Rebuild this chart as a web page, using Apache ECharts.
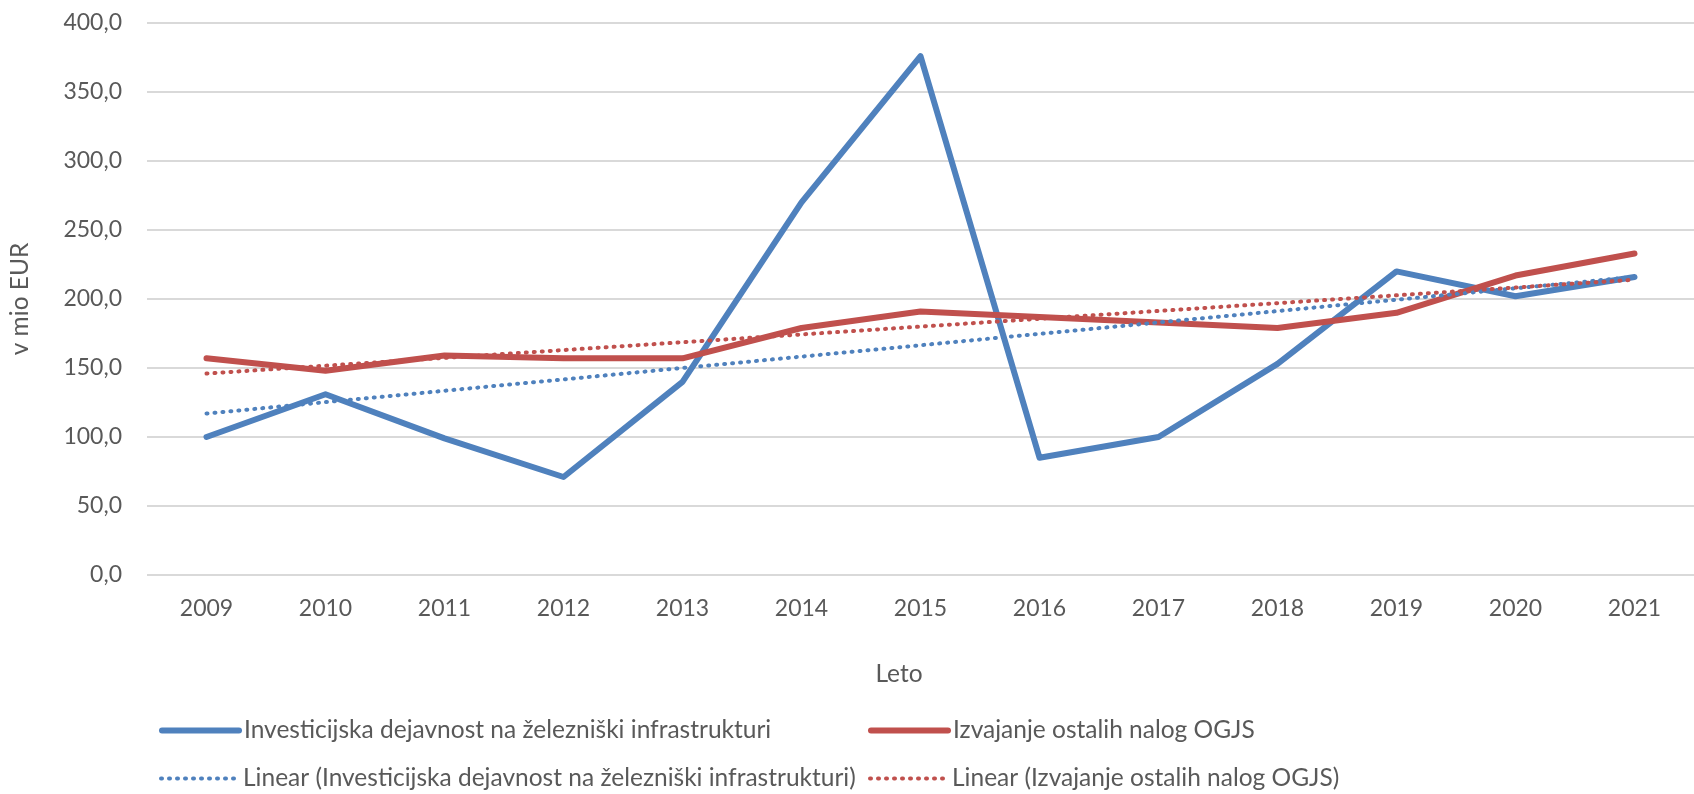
<!DOCTYPE html>
<html>
<head>
<meta charset="utf-8">
<script src="https://cdn.jsdelivr.net/npm/echarts@6/dist/echarts.min.js"></script>
<style>html,body{margin:0;padding:0;background:#fff;}#c{width:1694px;height:794px;}</style>
</head>
<body>
<div id="c"></div>
<script>
const years = ['2009','2010','2011','2012','2013','2014','2015','2016','2017','2018','2019','2020','2021'];
const investicije = [100, 131, 99, 71, 140, 270, 376, 85, 100, 153, 220, 202, 216];
const ostaleNaloge = [157, 148, 159, 157, 157, 179, 191, 187, 183, 179, 190, 217, 233];
// trend lines (start and end values)
const trendInvesticije = [117, null, null, null, null, null, null, null, null, null, null, null, 216];
const trendOstale = [146, null, null, null, null, null, null, null, null, null, null, null, 214];
const yTicks = { min: 0, max: 400, interval: 50 };
const names = [
  'Investicijska dejavnost na železniški infrastrukturi',
  'Izvajanje ostalih nalog OGJS',
  'Linear (Investicijska dejavnost na železniški infrastrukturi)',
  'Linear (Izvajanje ostalih nalog OGJS)'
];

const FONT = 'Lato';
const TXT = '#595959';
const BLUE = '#4F81BD';
const RED = '#C0504D';

const chart = echarts.init(document.getElementById('c'), null, {renderer: 'canvas'});
function leg(name, left, top, color, width, type) {
  return {
    data: [name], left: left, top: top, orient: 'horizontal',
    itemWidth: 77, itemHeight: 14, itemGap: 0,
    itemStyle: {opacity: 0},
    lineStyle: {color: color, width: width, type: type, cap: 'round'},
    textStyle: {fontFamily: FONT, fontSize: 24.5, color: TXT},
    padding: 0, selectedMode: false
  };
}
chart.setOption({
  animation: false,
  backgroundColor: '#fff',
  grid: {left: 147, right: -6, top: 23, bottom: 794 - 575, containLabel: false},
  title: {
    text: 'Leto', left: 894, top: 657, textAlign: 'center',
    textStyle: {fontFamily: FONT, fontSize: 24.5, color: TXT, fontWeight: 'normal'}
  },
  legend: [
    leg(names[0], 159, 718, BLUE, 6, 'solid'),
    leg(names[1], 868, 718, RED, 6, 'solid'),
    leg(names[2], 159, 766, BLUE, 4, [1, 7]),
    leg(names[3], 868, 766, RED, 4, [1, 7])
  ],
  xAxis: {
    type: 'category', data: years, boundaryGap: true,
    axisLine: {show: false}, axisTick: {show: false},
    axisLabel: {fontFamily: FONT, fontSize: 23, color: TXT, margin: 22}
  },
  yAxis: {
    type: 'value', min: yTicks.min, max: yTicks.max, interval: yTicks.interval,
    name: 'v mio EUR', nameLocation: 'middle', nameGap: 114, nameRotate: 90,
    nameTextStyle: {fontFamily: FONT, fontSize: 24.5, color: TXT},
    axisLine: {show: false}, axisTick: {show: false},
    axisLabel: {fontFamily: FONT, fontSize: 23, color: TXT, margin: 25,
      formatter: v => v.toFixed(1).replace('.', ',')},
    splitLine: {lineStyle: {color: '#D9D9D9', width: 2}}
  },
  series: [
    {name: names[0], type: 'line', data: investicije, symbol: 'none', z: 3,
      lineStyle: {color: BLUE, width: 6, cap: 'round', join: 'round'}, itemStyle: {color: BLUE}},
    {name: names[1], type: 'line', data: ostaleNaloge, symbol: 'none', z: 3,
      lineStyle: {color: RED, width: 6, cap: 'round', join: 'round'}, itemStyle: {color: RED}},
    {name: names[2], type: 'line', data: trendInvesticije, connectNulls: true, symbol: 'none', z: 4,
      lineStyle: {color: BLUE, width: 4, type: [1, 7], cap: 'round'}, itemStyle: {color: BLUE}},
    {name: names[3], type: 'line', data: trendOstale, connectNulls: true, symbol: 'none', z: 4,
      lineStyle: {color: RED, width: 4, type: [1, 7], cap: 'round'}, itemStyle: {color: RED}}
  ]
});
</script>
</body>
</html>
